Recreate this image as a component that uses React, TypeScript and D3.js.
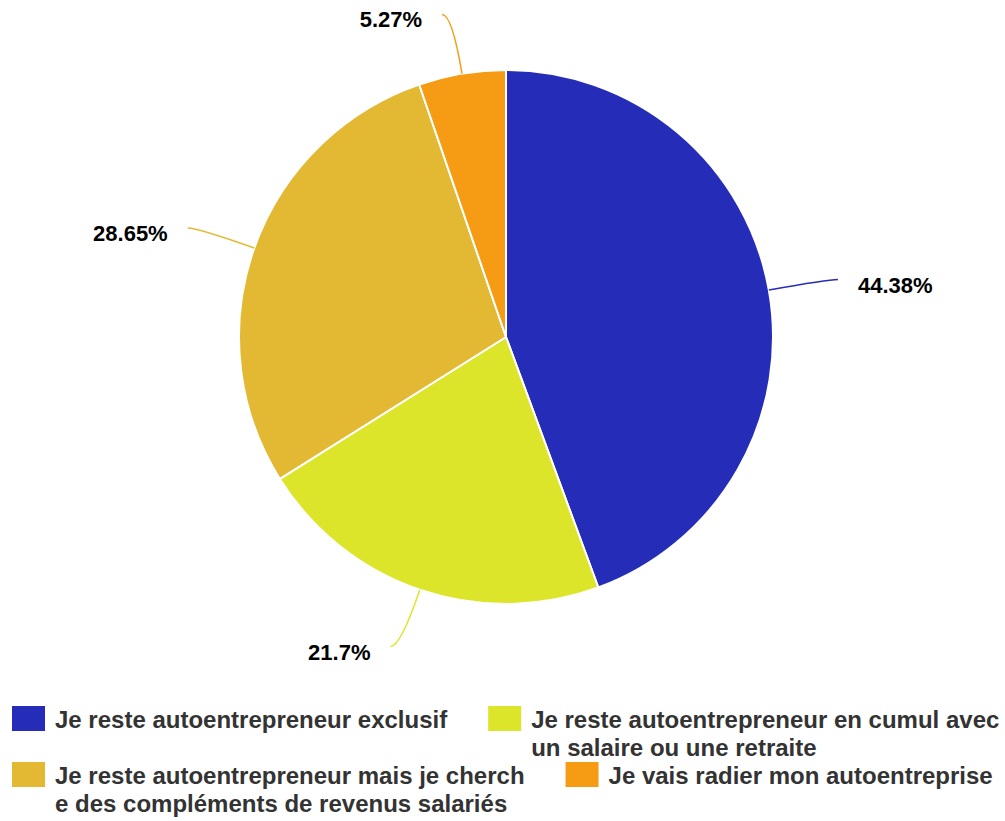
import * as d3 from "d3"
import { useEffect, useRef } from "react"

const categories = [
  "Je reste autoentrepreneur exclusif",
  "Je reste autoentrepreneur en cumul avec un salaire ou une retraite",
  "Je reste autoentrepreneur mais je cherche des compléments de revenus salariés",
  "Je vais radier mon autoentreprise",
]
const values = [44.38, 21.7, 28.65, 5.27]
const colors = ["#252db8", "#dce52a", "#e3b934", "#f59c14"]

const WIDTH = 1005
const HEIGHT = 821
const FONT = "'Liberation Sans', Arial, Helvetica, sans-serif"

type Slice = { name: string; value: number; color: string }

const PieChart = () => {
  const svgRef = useRef<SVGSVGElement>(null)

  useEffect(() => {
    if (!svgRef.current) return
    document.body.style.margin = "0"
    document.body.style.overflow = "hidden"

    const svg = d3.select(svgRef.current)
    svg.selectAll("*").remove()
    svg.attr("width", WIDTH).attr("height", HEIGHT)

    const data: Slice[] = categories.map((name, i) => ({
      name,
      value: values[i],
      color: colors[i],
    }))

    const cx = 506
    const cy = 337
    const radius = 267
    const len1 = 60
    const len2 = 10

    const pie = d3
      .pie<Slice>()
      .sort(null)
      .value((d) => d.value)
    const arcs = pie(data)

    const arc = d3
      .arc<d3.PieArcDatum<Slice>>()
      .innerRadius(0)
      .outerRadius(radius)

    const g = svg.append("g").attr("transform", `translate(${cx},${cy})`)

    g.selectAll("path.slice")
      .data(arcs)
      .join("path")
      .attr("class", "slice")
      .attr("d", arc)
      .attr("fill", (d) => d.data.color)
      .attr("stroke", "#fff")
      .attr("stroke-width", 2)
      .attr("stroke-linejoin", "round")

    // label lines: radial segment then short horizontal, smoothed
    const geom = arcs.map((d) => {
      const mid = (d.startAngle + d.endAngle) / 2
      const sx = Math.sin(mid)
      const sy = -Math.cos(mid)
      const side = sx >= 0 ? 1 : -1
      const a: [number, number] = [sx * radius, sy * radius]
      const b: [number, number] = [sx * (radius + len1), sy * (radius + len1)]
      const c: [number, number] = [b[0] + side * len2, b[1]]
      return { d, a, b, c, side }
    })

    g.selectAll("path.label-line")
      .data(geom)
      .join("path")
      .attr("class", "label-line")
      .attr("fill", "none")
      .attr("stroke", (p) => p.d.data.color)
      .attr("stroke-width", 1.5)
      .attr("d", (p) => {
        const path = d3.path()
        path.moveTo(p.a[0], p.a[1])
        path.quadraticCurveTo(p.b[0], p.b[1], p.c[0], p.c[1])
        return path.toString()
      })

    g.selectAll("text.label")
      .data(geom)
      .join("text")
      .attr("class", "label")
      .attr("x", (p) => p.c[0] + p.side * 20)
      .attr("y", (p) => p.c[1] + 13)
      .attr("text-anchor", (p) => (p.side > 0 ? "start" : "end"))
      .attr("font-family", FONT)
      .attr("font-weight", "bold")
      .attr("font-size", "22px")
      .attr("fill", "#000")
      .attr("stroke", "#fff")
      .attr("stroke-width", 4)
      .attr("stroke-linejoin", "round")
      .attr("paint-order", "stroke")
      .text((p) => `${p.d.data.value}%`)

    // legend
    const measure = svg
      .append("text")
      .attr("font-family", FONT)
      .attr("font-weight", "bold")
      .attr("font-size", "24px")
      .attr("visibility", "hidden")
    const textWidth = (s: string) => {
      measure.text(s)
      return (measure.node() as SVGTextElement).getComputedTextLength()
    }
    const wrap = (s: string, maxW: number) => {
      const lines: string[] = []
      let cur = ""
      for (const ch of s) {
        if (cur && textWidth(cur + ch) > maxW) {
          lines.push(cur.trimEnd())
          cur = ch === " " ? "" : ch
        } else {
          cur += ch
        }
      }
      if (cur) lines.push(cur)
      return lines
    }

    const legend = svg.append("g")
    const left = 12
    const right = WIDTH
    const lineH = 28
    const gap = 41
    let x = left
    let y = 706
    let rowH = 0
    data.forEach((item) => {
      const lines = wrap(item.name, 470)
      const w = 43 + (d3.max(lines, textWidth) ?? 0)
      if (x + w > right && x > left) {
        x = left
        y += rowH
        rowH = 0
      }
      const it = legend.append("g").attr("transform", `translate(${x},${y})`)
      it.append("rect")
        .attr("width", 33)
        .attr("height", 25)
        .attr("fill", item.color)
      it.selectAll("text")
        .data(lines)
        .join("text")
        .attr("x", 43)
        .attr("y", (_, i) => 12.5 + 9 + i * lineH)
        .attr("font-family", FONT)
        .attr("font-weight", "bold")
        .attr("font-size", "24px")
        .attr("fill", "#333")
        .text((t) => t)
      x += w + gap
      rowH = Math.max(rowH, lines.length * lineH)
    })
    measure.remove()
  }, [])

  return (
    <svg
      ref={svgRef}
      style={{ display: "block", background: "#fff" }}
    />
  )
}

export default function App() {
  return <PieChart />
}
